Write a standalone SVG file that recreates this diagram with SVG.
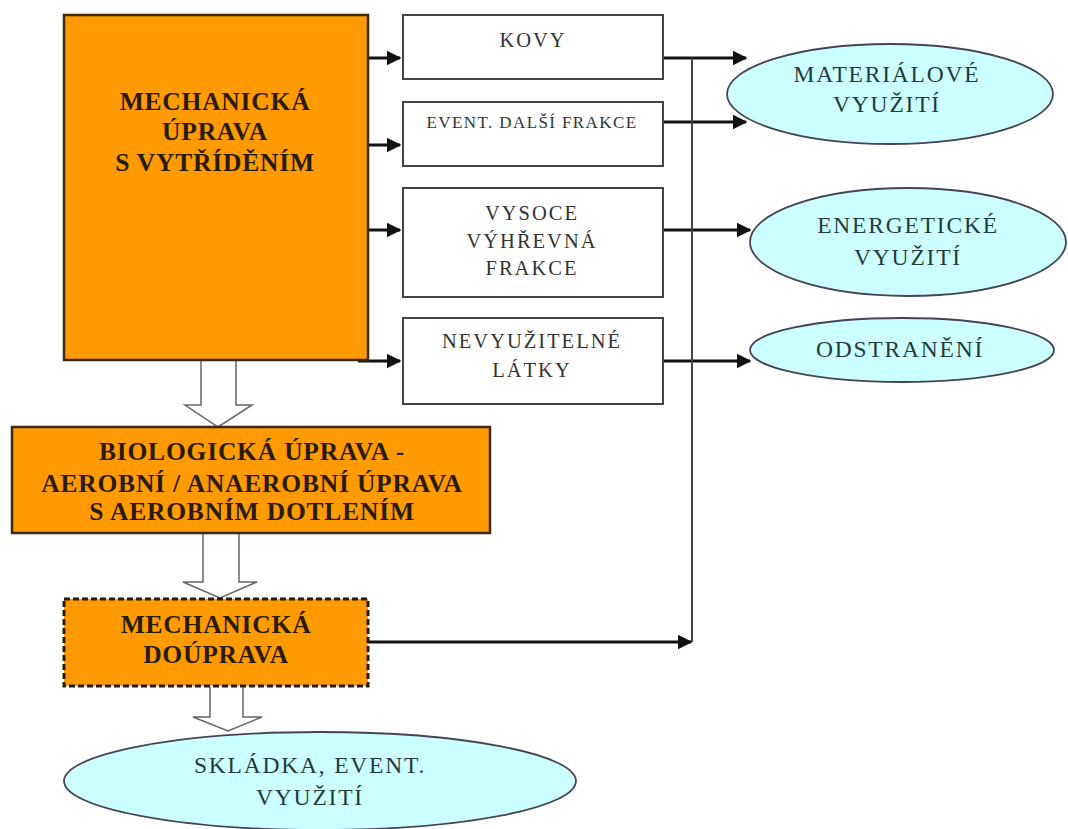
<svg xmlns="http://www.w3.org/2000/svg" width="1068" height="829" viewBox="0 0 1068 829">
<defs>
<style>
.orange{fill:#FF9A00;stroke:#3a2a10;stroke-width:2.5}
.wbox{fill:#fff;stroke:#444;stroke-width:2}
.ell{fill:#CCFFFF;stroke:#445;stroke-width:1.8}
.bt{font-family:"Liberation Serif",serif;font-weight:bold;font-size:25.5px;fill:#2a1a08;text-anchor:middle;letter-spacing:0.8px}
.wt{font-family:"Liberation Serif",serif;font-size:20.5px;fill:#333;text-anchor:middle;letter-spacing:2px}
.et{font-family:"Liberation Serif",serif;font-size:23.5px;fill:#1f3b3b;text-anchor:middle;letter-spacing:1.8px}
.ln{fill:none;stroke:#111;stroke-width:3}
.ln2{fill:none;stroke:#444;stroke-width:2}
.blk{fill:#fff;stroke:#666;stroke-width:1.5}
</style>
<marker id="ah" viewBox="0 0 10 10" refX="9" refY="5" markerWidth="5" markerHeight="5" orient="auto" markerUnits="strokeWidth">
<path d="M0,0 L10,5 L0,10 z" fill="#111"/>
</marker>
</defs>

<g id="connectors">
<line class="ln" x1="358" y1="58" x2="400" y2="58" marker-end="url(#ah)"/>
<line class="ln" x1="358" y1="145" x2="400" y2="145" marker-end="url(#ah)"/>
<line class="ln" x1="358" y1="230" x2="400" y2="230" marker-end="url(#ah)"/>
<line class="ln" x1="358" y1="361" x2="400" y2="361" marker-end="url(#ah)"/>
<line class="ln" x1="663" y1="58" x2="746" y2="58" marker-end="url(#ah)"/>
<line class="ln" x1="663" y1="122" x2="746" y2="122" marker-end="url(#ah)"/>
<line class="ln" x1="663" y1="230" x2="750" y2="230" marker-end="url(#ah)"/>
<line class="ln" x1="663" y1="361" x2="750" y2="361" marker-end="url(#ah)"/>
<line class="ln2" x1="692" y1="58" x2="692" y2="642"/>
<line class="ln" x1="368" y1="642" x2="691" y2="642" stroke-width="2.5" marker-end="url(#ah)"/>
<path class="blk" d="M201,361 L201,405 L185,405 L218,427 L252,405 L236,405 L236,361"/>
<path class="blk" d="M203,534 L203,582 L183,582 L220,598 L257,582 L239,582 L239,534"/>
<path class="blk" d="M210,687 L210,717 L193,717 L228,731 L262,717 L243,717 L243,687"/>
</g>

<g id="mech-uprava">
<rect class="orange" x="64" y="15" width="304" height="345"/>
<text class="bt" x="215" y="110">MECHANICKÁ</text>
<text class="bt" x="215" y="140">ÚPRAVA</text>
<text class="bt" x="215" y="171">S VYTŘÍDĚNÍM</text>
</g>

<g id="kovy">
<rect class="wbox" x="403" y="15" width="260" height="64"/>
<text class="wt" x="533" y="47">KOVY</text>
</g>
<g id="event-dalsi">
<rect class="wbox" x="403" y="102" width="260" height="64"/>
<text class="wt" x="532" y="128" style="font-size:17px;letter-spacing:1.4px">EVENT. DALŠÍ FRAKCE</text>
</g>
<g id="vysoce">
<rect class="wbox" x="403" y="188" width="260" height="109"/>
<text class="wt" x="532" y="220">VYSOCE</text>
<text class="wt" x="532" y="248">VÝHŘEVNÁ</text>
<text class="wt" x="532" y="275">FRAKCE</text>
</g>
<g id="nevyuzitelne">
<rect class="wbox" x="403" y="318" width="260" height="86"/>
<text class="wt" x="532" y="348">NEVYUŽITELNÉ</text>
<text class="wt" x="532" y="377">LÁTKY</text>
</g>

<g id="materialove">
<ellipse class="ell" cx="890" cy="94" rx="163" ry="50"/>
<text class="et" x="887" y="82">MATERIÁLOVÉ</text>
<text class="et" x="887" y="112">VYUŽITÍ</text>
</g>
<g id="energeticke">
<ellipse class="ell" cx="908" cy="242" rx="158" ry="54"/>
<text class="et" x="908" y="233">ENERGETICKÉ</text>
<text class="et" x="908" y="265">VYUŽITÍ</text>
</g>
<g id="odstraneni">
<ellipse class="ell" cx="902" cy="350" rx="152" ry="32"/>
<text class="et" x="900" y="357">ODSTRANĚNÍ</text>
</g>

<g id="biologicka">
<rect class="orange" x="12" y="427" width="478" height="106"/>
<text class="bt" x="252" y="460">BIOLOGICKÁ ÚPRAVA -</text>
<text class="bt" x="252" y="492">AEROBNÍ / ANAEROBNÍ ÚPRAVA</text>
<text class="bt" x="252" y="520">S AEROBNÍM DOTLENÍM</text>
</g>

<g id="doprava">
<rect x="64" y="599" width="304" height="87" fill="#FF9A00" stroke="#2a1a08" stroke-width="3" stroke-dasharray="6,3"/>
<text class="bt" x="216" y="633">MECHANICKÁ</text>
<text class="bt" x="216" y="663">DOÚPRAVA</text>
</g>

<g id="skladka">
<ellipse class="ell" cx="320" cy="781" rx="256" ry="49"/>
<text class="et" x="310" y="773">SKLÁDKA, EVENT.</text>
<text class="et" x="310" y="805">VYUŽITÍ</text>
</g>
</svg>
